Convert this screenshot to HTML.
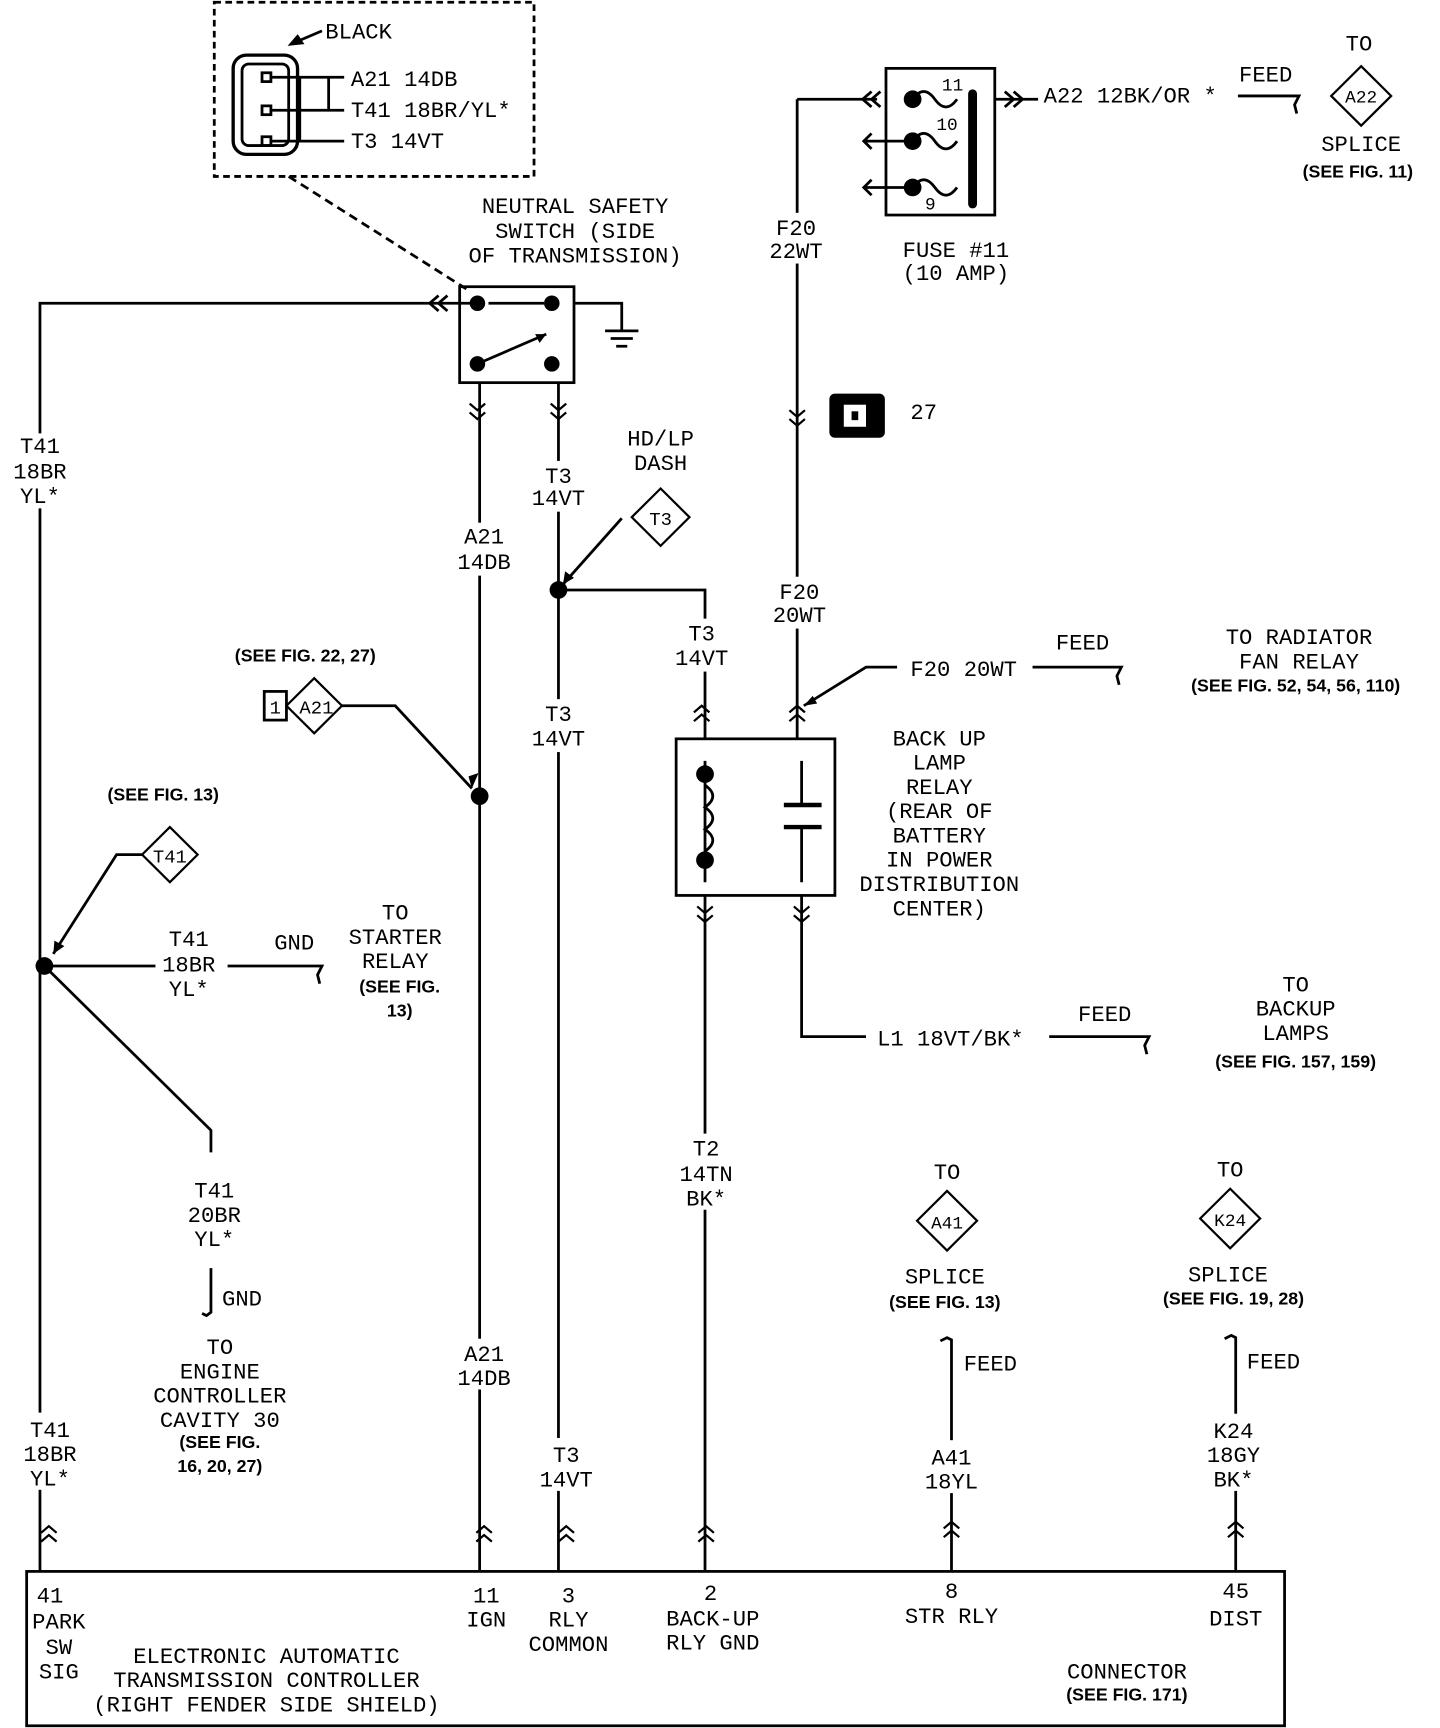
<!DOCTYPE html>
<html><head><meta charset="utf-8"><style>
html,body{margin:0;padding:0;background:#fff;}
svg{display:block}
.m{font-family:"Liberation Mono",monospace;font-size:20px;fill:#000;text-anchor:middle}
.s{font-family:"Liberation Sans",sans-serif;font-weight:bold;font-size:16px;fill:#000;text-anchor:middle}
.l{text-anchor:start}
</style></head><body>
<svg width="1440" height="1728" viewBox="0 0 1297 1567" preserveAspectRatio="none" xmlns="http://www.w3.org/2000/svg">
<defs>
<g id="chd"><path d="M-7,-6 L0,0 L7,-6 M-7,2 L0,8 L7,2" fill="none" stroke="#000" stroke-width="2"/></g>
<g id="chu"><path d="M-7,6 L0,0 L7,6 M-7,-2 L0,-8 L7,-2" fill="none" stroke="#000" stroke-width="2"/></g>
</defs>
<g stroke="#000" stroke-width="2.5" fill="none">
<rect x="193" y="2" width="288" height="158" stroke-dasharray="6,4"/>
<line x1="260" y1="160" x2="420" y2="262" stroke-dasharray="8,5"/>
<rect x="210" y="50" width="58" height="90" rx="12" stroke-width="3"/>
<rect x="218" y="58" width="42" height="74" rx="6"/>
<rect x="236" y="66" width="8" height="8"/><rect x="236" y="96" width="8" height="8"/><rect x="236" y="124" width="8" height="8"/>
<path d="M244,70 H310 M244,100 H310 M244,128 H310 M270,70 V128 M296,70 V100"/>
<path d="M290,28 L262,40" /><path d="M262,40 l10,-1 l-4,-6z" fill="#000"/>
<rect x="414" y="260" width="103" height="87"/>
<path d="M517,275 H560 V300 M545,300 H575 M550,307 H570 M555,314 H565"/>
<path d="M430,330 L492,303" /><path d="M440,275 H490"/>
<path d="M430,275 H36 V1425"/>
<path d="M395,268 l-8,7 l8,7 M403,268 l-8,7 l8,7"/>
<path d="M432,347 V1425"/>
<path d="M503,347 V1425"/>
<path d="M503,535 H635 V670"/>
<path d="M560,470 L507,530"/>
<path d="M718,90 H790 M718,90 V670"/>
<path d="M785,83 l-8,7 l8,7 M793,83 l-8,7 l8,7"/>
<rect x="798" y="62" width="98" height="133"/>
<path d="M822,90 q10,-14 20,0 t20,0 M822,128 q10,-14 20,0 t20,0 M822,170 q10,-14 20,0 t20,0"/>
<path d="M780,128 H820 M780,170 H820"/>
<path d="M785,121 l-7,7 l7,7 M785,163 l-7,7 l7,7"/>
<path d="M896,90 H935 M905,83 l8,7 l-8,7 M913,83 l8,7 l-8,7"/>
<path d="M1115,87 H1170 l-4,8 l2,8"/>
<path d="M724,640 L780,605 H808 M930,605 H1010 l-4,8 l2,8"/>
<rect x="609" y="670" width="143" height="142"/>
<path d="M635,690 V800 M722,690 V730 M722,750 V800"/>
<path d="M635,712 q14,10 0,20 q14,10 0,20 q14,10 0,20"/>
<path d="M635,812 V1425 M722,812 V940 H780 M945,940 H1035 l-4,8 l2,8"/>
<path d="M308,640 H356 L425,715"/>
<rect x="238" y="627" width="20" height="26"/>
<path d="M130,775 H105 L48,865 M40,876 H140 M205,876 H290 l-4,8 l2,8"/>
<path d="M40,876 L190,1025 V1045"/>
<path d="M190,1150 V1190 l-4,3 l-4,-2"/>
<path d="M857,1425 V1215 l-4,-2 l-6,3 M1113,1425 V1213 l-4,-2 l-6,3"/>
<rect x="24" y="1425" width="1133" height="140"/>
</g>
<g stroke="#000" stroke-width="4"><line x1="706" y1="730" x2="740" y2="730"/><line x1="706" y1="750" x2="740" y2="750"/><line x1="876" y1="85" x2="876" y2="185" stroke-width="8" stroke-linecap="round"/></g>
<!-- gaps behind wire labels -->
<g fill="#fff">
<rect x="8" y="393" width="58" height="68"/><rect x="12" y="1281" width="64" height="70"/>
<rect x="408" y="474" width="56" height="48"/><rect x="408" y="1214" width="56" height="46"/>
<rect x="476" y="418" width="56" height="46"/><rect x="476" y="634" width="56" height="48"/><rect x="482" y="1304" width="56" height="48"/>
<rect x="604" y="561" width="56" height="48"/>
<rect x="690" y="193" width="56" height="46"/><rect x="690" y="523" width="56" height="47"/>
<rect x="608" y="1028" width="56" height="69"/>
<rect x="829" y="1306" width="56" height="48"/><rect x="1085" y="1282" width="56" height="70"/>
</g>
<g fill="#000">
<circle cx="430" cy="275" r="7"/><circle cx="497" cy="275" r="7"/><circle cx="430" cy="330" r="7"/><circle cx="497" cy="330" r="7"/>
<path d="M492,303 l-10,0 l4,8z"/>
<circle cx="503" cy="535" r="8"/><circle cx="432" cy="722" r="8"/><circle cx="40" cy="876" r="8"/>
<circle cx="822" cy="90" r="8"/><circle cx="822" cy="128" r="8"/><circle cx="822" cy="170" r="8"/>
<circle cx="635" cy="702" r="8"/><circle cx="635" cy="780" r="8"/>
<path d="M507,530 l2,-12 l8,6z M425,715 l-3,-11 l9,-3z M48,865 l1,-12 l9,5z M724,640 l12,-2 l-4,-7z"/>
<rect x="747" y="357" width="50" height="40" rx="5"/>
</g>
<rect x="760" y="367" width="20" height="20" fill="#fff"/><rect x="767" y="373" width="6" height="8" fill="#000"/>
<g fill="#fff" stroke="#000" stroke-width="2">
<path d="M1226,60 l27,27 l-27,27 l-27,-27z"/>
<path d="M595,443 l26,26 l-26,26 l-26,-26z"/>
<path d="M283,615 l25,25 l-25,25 l-25,-25z"/>
<path d="M153,750 l25,25 l-25,25 l-25,-25z"/>
<path d="M853,1080 l27,27 l-27,27 l-27,-27z"/>
<path d="M1108,1078 l27,27 l-27,27 l-27,-27z"/>
</g>
<use href="#chd" x="430" y="372"/><use href="#chd" x="503" y="372"/><use href="#chd" x="718" y="378"/>
<use href="#chu" x="632" y="648"/><use href="#chu" x="718" y="648"/>
<use href="#chd" x="635" y="828"/><use href="#chd" x="722" y="828"/>
<use href="#chu" x="44" y="1392"/><use href="#chu" x="436" y="1392"/><use href="#chu" x="510" y="1392"/><use href="#chu" x="636" y="1392"/><use href="#chu" x="857" y="1388"/><use href="#chu" x="1113" y="1388"/>
<g class="m">
<text x="293" y="35" class="m l">BLACK</text>
<text x="316" y="78" class="m l">A21 14DB</text>
<text x="316" y="106" class="m l">T41 18BR/YL*</text>
<text x="316" y="134" class="m l">T3 14VT</text>
<text x="518" y="193">NEUTRAL SAFETY</text><text x="518" y="216">SWITCH (SIDE</text><text x="518" y="238">OF TRANSMISSION)</text>
<text x="36" y="411">T41</text><text x="36" y="434">18BR</text><text x="36" y="456">YL*</text>
<text x="436" y="493">A21</text><text x="436" y="516">14DB</text>
<text x="436" y="1234">A21</text><text x="436" y="1256">14DB</text>
<text x="503" y="438">T3</text><text x="503" y="458">14VT</text>
<text x="595" y="404">HD/LP</text><text x="595" y="426">DASH</text>
<text x="595" y="476" style="font-size:17px">T3</text>
<text x="503" y="654">T3</text><text x="503" y="676">14VT</text>
<text x="632" y="581">T3</text><text x="632" y="603">14VT</text>
<text x="510" y="1326">T3</text><text x="510" y="1348">14VT</text>
<text x="717" y="213">F20</text><text x="717" y="234">22WT</text>
<text x="720" y="543">F20</text><text x="720" y="564">20WT</text>
<text x="861" y="233">FUSE #11</text><text x="861" y="254">(10 AMP)</text>
<text x="858" y="82" style="font-size:16px">11</text><text x="853" y="118" style="font-size:16px">10</text><text x="838" y="190" style="font-size:16px">9</text>
<text x="940" y="93" class="m l">A22 12BK/OR *</text>
<text x="1140" y="74">FEED</text><text x="1224" y="46">TO</text>
<text x="1226" y="93" style="font-size:16px">A22</text>
<text x="1226" y="137">SPLICE</text>
<text x="820" y="380" class="m l">27</text>
<text x="820" y="613" class="m l">F20 20WT</text>
<text x="975" y="589">FEED</text>
<text x="1170" y="584">TO RADIATOR</text><text x="1170" y="606">FAN RELAY</text>
<text x="846" y="676">BACK UP</text><text x="846" y="698">LAMP</text><text x="846" y="720">RELAY</text><text x="846" y="742">(REAR OF</text><text x="846" y="764">BATTERY</text><text x="846" y="786">IN POWER</text><text x="846" y="808">DISTRIBUTION</text><text x="846" y="830">CENTER)</text>
<text x="790" y="948" class="m l">L1 18VT/BK*</text>
<text x="995" y="926">FEED</text>
<text x="1167" y="899">TO</text><text x="1167" y="921">BACKUP</text><text x="1167" y="943">LAMPS</text>
<text x="636" y="1048">T2</text><text x="636" y="1071">14TN</text><text x="636" y="1093">BK*</text>
<text x="248" y="647" style="font-size:17px">1</text>
<text x="285" y="647" style="font-size:17px">A21</text>
<text x="153" y="782" style="font-size:17px">T41</text>
<text x="170" y="858">T41</text><text x="170" y="881">18BR</text><text x="170" y="903">YL*</text>
<text x="265" y="861">GND</text>
<text x="356" y="834">TO</text><text x="356" y="856">STARTER</text><text x="356" y="878">RELAY</text>
<text x="193" y="1086">T41</text><text x="193" y="1108">20BR</text><text x="193" y="1130">YL*</text>
<text x="218" y="1184">GND</text>
<text x="198" y="1228">TO</text><text x="198" y="1250">ENGINE</text><text x="198" y="1272">CONTROLLER</text><text x="198" y="1294">CAVITY 30</text>
<text x="45" y="1303">T41</text><text x="45" y="1325">18BR</text><text x="45" y="1347">YL*</text>
<text x="853" y="1069">TO</text><text x="853" y="1114" style="font-size:16px">A41</text>
<text x="851" y="1164">SPLICE</text>
<text x="892" y="1243">FEED</text>
<text x="857" y="1328">A41</text><text x="857" y="1350">18YL</text>
<text x="1108" y="1067">TO</text><text x="1108" y="1112" style="font-size:16px">K24</text>
<text x="1106" y="1162">SPLICE</text>
<text x="1147" y="1241">FEED</text>
<text x="1111" y="1304">K24</text><text x="1111" y="1326">18GY</text><text x="1111" y="1348">BK*</text>
<text x="45" y="1453">41</text><text x="53" y="1477">PARK</text><text x="53" y="1500">SW</text><text x="53" y="1522">SIG</text>
<text x="438" y="1453">11</text><text x="438" y="1475">IGN</text>
<text x="512" y="1453">3</text><text x="512" y="1475">RLY</text><text x="512" y="1497">COMMON</text>
<text x="640" y="1451">2</text><text x="642" y="1474">BACK-UP</text><text x="642" y="1496">RLY GND</text>
<text x="857" y="1449">8</text><text x="857" y="1472">STR RLY</text>
<text x="1113" y="1449">45</text><text x="1113" y="1474">DIST</text>
<text x="240" y="1508">ELECTRONIC AUTOMATIC</text><text x="240" y="1530">TRANSMISSION CONTROLLER</text><text x="240" y="1552">(RIGHT FENDER SIDE SHIELD)</text>
<text x="1015" y="1522">CONNECTOR</text>
</g>
<g class="s">
<text x="1223" y="161">(SEE FIG. 11)</text>
<text x="1167" y="627">(SEE FIG. 52, 54, 56, 110)</text>
<text x="1167" y="968">(SEE FIG. 157, 159)</text>
<text x="275" y="600">(SEE FIG. 22, 27)</text>
<text x="147" y="726">(SEE FIG. 13)</text>
<text x="360" y="900">(SEE FIG.</text><text x="360" y="922">13)</text>
<text x="198" y="1313">(SEE FIG.</text><text x="198" y="1335">16, 20, 27)</text>
<text x="851" y="1186">(SEE FIG. 13)</text>
<text x="1111" y="1183">(SEE FIG. 19, 28)</text>
<text x="1015" y="1542">(SEE FIG. 171)</text>
</g>
</svg>
</body></html>
